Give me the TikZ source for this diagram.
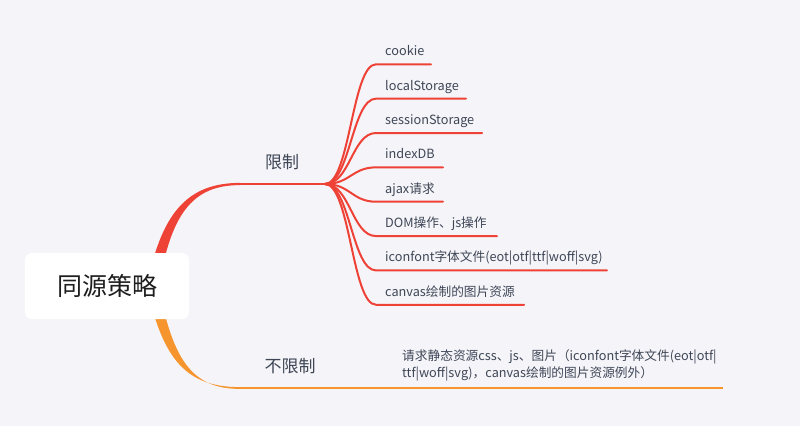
\documentclass[tikz,border=0pt]{standalone}
\usepackage{fontspec}
\setmainfont{Noto Sans CJK SC}
\definecolor{bg}{RGB}{245,245,249}
\definecolor{redA}{RGB}{239,66,54}
\definecolor{orangeA}{RGB}{246,148,45}
\definecolor{txt}{RGB}{62,70,86}
\definecolor{roottxt}{RGB}{30,30,30}
\begin{document}
\begin{tikzpicture}[x=1pt,y=-1pt,
  leaf/.style={font=\fontsize{12.7}{15}\selectfont, text=txt, anchor=base west, inner sep=0pt},
  mainlbl/.style={font=\fontsize{17}{20}\selectfont, text=txt, inner sep=0pt},
  subline/.style={draw=redA, line width=2pt, line cap=round},
  rootbox/.style={fill=white, rounded corners=7pt, minimum width=164pt, minimum height=66pt, font=\fontsize{25}{28}\selectfont, text=roottxt}]
\useasboundingbox (0,0) rectangle (800,426);
\fill[bg] (0,0) rectangle (800,426);

% main branches (tapered), drawn under the root box
\fill[redA] (146,292) .. controls (160,212) and (188,182.9) .. (240,182.9)
  -- (240,185.1) .. controls (192,185.1) and (170,214) .. (158,292) -- cycle;
\fill[orangeA] (146,282) .. controls (162,362) and (188,387.1) .. (240,387.1)
  -- (240,388.9) .. controls (192,388.9) and (172,360) .. (158,282) -- cycle;

\node[rootbox] (root) at (107,286) {同源策略};

\coordinate (a1) at (240,184);
\coordinate (hub) at (325,184);
\draw[redA, line width=2pt] (a1) -- (hub);
\node[mainlbl] (lim) at (282,162) {限制};

\coordinate (b1) at (240,388);
\coordinate (b2) at (723,388);
\draw[orangeA, line width=2pt] (b1) -- (b2);
\node[mainlbl] (nolim) at (290,366) {不限制};

% leaves
\foreach \i/\txt/\xe [count=\k from 0] in {
  c/cookie/431,
  l/localStorage/466,
  s/sessionStorage/482,
  d/indexDB/443,
  j/ajax请求/443,
  m/DOM操作、js操作/497,
  f/iconfont字体文件(eot|otf|ttf|woff|svg)/607,
  v/canvas绘制的图片资源/524} {
  \pgfmathsetmacro{\yy}{64.3+34.35*\k}
  \coordinate (s\i) at (376,\yy);
  \coordinate (e\i) at (\xe,\yy);
  \draw[subline] (hub) .. controls (350,184) and (352,\yy) .. (s\i) -- (e\i);
  \node[leaf] (t\i) at (385,\yy-8.5) {\txt};
}

\node[font=\fontsize{12.7}{17.3}\selectfont, text=txt, anchor=north west, inner sep=0pt, align=left] (unl) at (402,349)
  {请求静态资源css、js、图片（iconfont字体文件(eot|otf|\\ttf|woff|svg)，canvas绘制的图片资源例外）};
\end{tikzpicture}
\end{document}
